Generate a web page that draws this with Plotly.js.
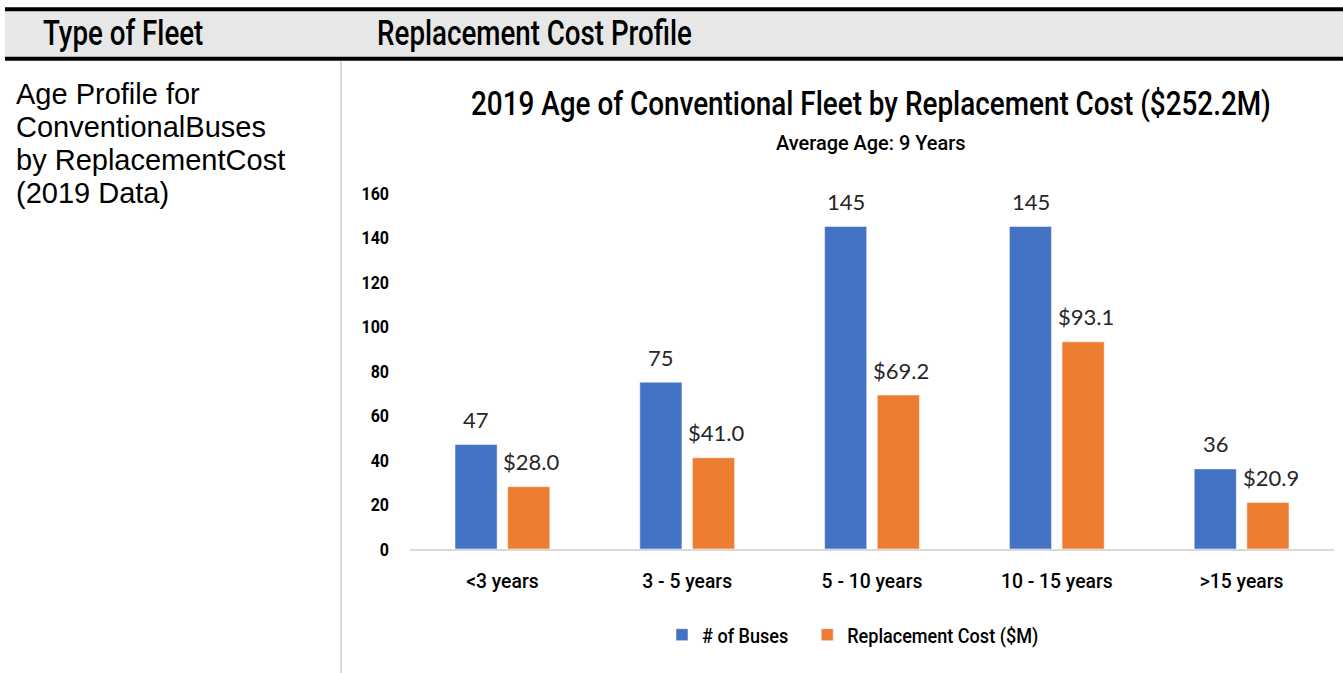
<!DOCTYPE html>
<html>
<head>
<meta charset="utf-8">
<script src="https://cdn.plot.ly/plotly-3.0.1.min.js"></script>
<style>html,body{margin:0;padding:0;background:#fff;}#chart{width:1343px;height:673px;}</style>
</head>
<body>
<div id="chart"></div>
<script>
// ---- data ----
const categories = ['<3 years', '3 - 5 years', '5 - 10 years', '10 - 15 years', '>15 years'];
const tickLabels = ['&lt;3 years', '3 - 5 years', '5 - 10 years', '10 - 15 years', '&gt;15 years'];
const busCounts = [47, 75, 145, 145, 36];
const replacementCost = [28.0, 41.0, 69.2, 93.1, 20.9];
const busLabels = busCounts.map(v => String(v));
const costLabels = replacementCost.map(v => '$' + v.toFixed(1));
const yTicks = [0, 20, 40, 60, 80, 100, 120, 140, 160];
const seriesNames = ['# of Buses', 'Replacement Cost ($M)'];
const chartTitle = '2019 Age of Conventional Fleet by Replacement Cost ($252.2M)';
const chartSubtitle = 'Average Age: 9 Years';
const headerLeft = 'Type of Fleet';
const headerRight = 'Replacement Cost Profile';
const rowLabel = ['Age Profile for', 'ConventionalBuses', 'by ReplacementCost', '(2019 Data)'];

// ---- layout helpers ----
const W = 1343, H = 673;
const px = x => x / W;
const py = y => 1 - y / H;
const COND = "Roboto, 'Liberation Sans Narrow', sans-serif";
const LABEL = "Lato, Carlito, Calibri, 'Open Sans', sans-serif";
const BLUE = '#4472C4', ORANGE = '#ED7D31';

const traces = [
  {type: 'bar', name: seriesNames[0], x: categories, y: busCounts,
   marker: {color: BLUE, line: {color: '#ffffff', width: 0.5}}, hoverinfo: 'skip'},
  {type: 'bar', name: seriesNames[1], x: categories, y: replacementCost,
   marker: {color: ORANGE, line: {color: '#ffffff', width: 0.5}}, hoverinfo: 'skip'}
];

const annotations = [];
const squeeze = []; // horizontal condensing factor per annotation
const shift = 27;
categories.forEach((c, i) => {
  annotations.push({xref: 'x', yref: 'y', x: c, y: busCounts[i], text: busLabels[i], showarrow: false,
    xshift: -shift + 1, yshift: 25, yanchor: 'middle', font: {family: LABEL, size: 22, color: '#262626'}});
  squeeze.push(1);
  annotations.push({xref: 'x', yref: 'y', x: c, y: replacementCost[i], text: costLabels[i], showarrow: false,
    xshift: shift + 2, yshift: 25, yanchor: 'middle', font: {family: LABEL, size: 22, color: '#262626'}});
  squeeze.push(1);
});
annotations.push({xref: 'paper', yref: 'paper', x: px(871), y: py(102.5), text: chartTitle, showarrow: false,
  xanchor: 'center', yanchor: 'middle', font: {family: COND, size: 34, color: '#000', weight: 500}});
squeeze.push(0.82);
annotations.push({xref: 'paper', yref: 'paper', x: px(871), y: py(143), text: chartSubtitle, showarrow: false,
  xanchor: 'center', yanchor: 'middle', font: {family: COND, size: 21, color: '#000', weight: 500}});
squeeze.push(0.95);
annotations.push({xref: 'paper', yref: 'paper', x: px(122.5), y: py(33), text: headerLeft, showarrow: false,
  xanchor: 'center', yanchor: 'middle', font: {family: COND, size: 36, color: '#000', weight: 500}});
squeeze.push(0.77);
annotations.push({xref: 'paper', yref: 'paper', x: px(534), y: py(33), text: headerRight, showarrow: false,
  xanchor: 'center', yanchor: 'middle', font: {family: COND, size: 36, color: '#000', weight: 500}});
squeeze.push(0.77);
const rowY = [94.5, 127.2, 159.9, 192.6];
rowLabel.forEach((t, i) => {
  annotations.push({xref: 'paper', yref: 'paper', x: px(14), y: py(rowY[i]), text: t, showarrow: false,
    xanchor: 'left', yanchor: 'middle', font: {family: "'Liberation Sans', Arial, sans-serif", size: 29, color: '#000'}});
  squeeze.push(1);
});

const shapes = [
  {type: 'rect', xref: 'paper', yref: 'paper', x0: px(5), x1: 1, y0: py(57), y1: py(11), fillcolor: '#e7e7e7', line: {width: 0}, layer: 'below'},
  {type: 'line', xref: 'paper', yref: 'paper', x0: px(5), x1: 1, y0: py(9.3), y1: py(9.3), line: {color: '#000', width: 4}},
  {type: 'line', xref: 'paper', yref: 'paper', x0: px(5), x1: 1, y0: py(58.8), y1: py(58.8), line: {color: '#000', width: 4}},
  {type: 'line', xref: 'paper', yref: 'paper', x0: px(341), x1: px(341), y0: py(61), y1: 0, line: {color: '#d9d9d9', width: 2}}
];

const layout = {
  width: W, height: H,
  margin: {l: 0, r: 0, t: 0, b: 0},
  paper_bgcolor: '#fff', plot_bgcolor: '#fff',
  showlegend: true,
  barmode: 'group', bargap: 0.43, bargroupgap: 0.2,
  xaxis: {domain: [px(410), px(1334)], type: 'category', showgrid: false, zeroline: false,
    showline: true, linecolor: '#d9d9d9', linewidth: 1.5, ticks: '',
    tickvals: categories, ticktext: tickLabels, ticklabelstandoff: 12,
    tickfont: {family: COND, size: 21, color: '#000', weight: 500}},
  yaxis: {domain: [py(549), py(193)], range: [0, 160], tickvals: yTicks, showgrid: false, zeroline: false,
    showline: false, ticks: '', ticklabelstandoff: 20,
    tickfont: {family: COND, size: 19, color: '#000', weight: 'bold'}},
  legend: {orientation: 'h', x: px(662), y: py(635), xanchor: 'left', yanchor: 'middle',
    font: {family: COND, size: 21, color: '#000', weight: 500}, itemclick: false, itemdoubleclick: false},
  annotations: annotations,
  shapes: shapes
};

function condense(el, f) {
  if (!el || f >= 0.999) return;
  const w = el.getComputedTextLength();
  if (w > 0) {
    el.setAttribute('textLength', (w * f).toFixed(2));
    el.setAttribute('lengthAdjust', 'spacingAndGlyphs');
  }
}
function squeezeTransform(el, f) {
  if (!el || f >= 0.999) return;
  const cx = parseFloat(el.getAttribute('x')) || 0;
  const prev = el.getAttribute('transform') || '';
  el.setAttribute('transform', (prev + ' translate(' + cx + ',0) scale(' + f + ',1) translate(' + (-cx) + ',0)').trim());
}

Plotly.newPlot('chart', traces, layout, {displayModeBar: false, staticPlot: true}).then(gd => {
  gd.querySelectorAll('.annotation').forEach(g => {
    const idx = +g.getAttribute('data-index');
    squeezeTransform(g.querySelector('text'), squeeze[idx]);
  });
  gd.querySelectorAll('.xtick text').forEach(t => condense(t, 0.92));
  gd.querySelectorAll('.ytick text').forEach(t => condense(t, 0.84));
  gd.querySelectorAll('.legendtext').forEach(t => condense(t, 0.86));
});
</script>
</body>
</html>
